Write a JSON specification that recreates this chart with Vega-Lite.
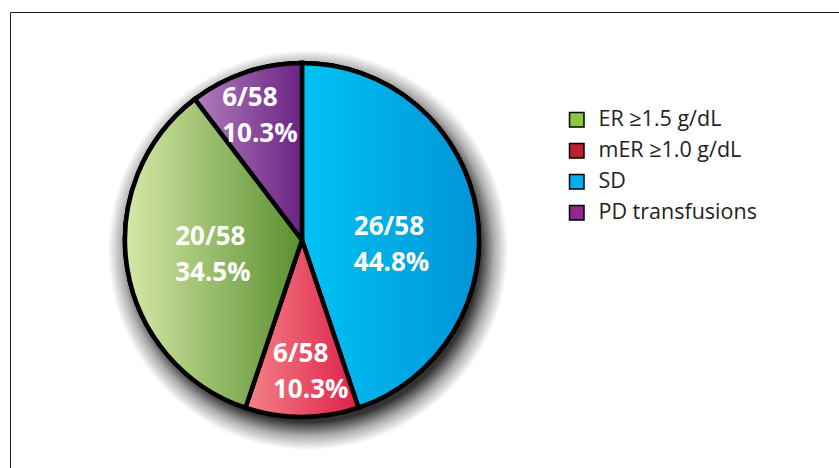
{
  "$schema": "https://vega.github.io/schema/vega-lite/v6.json",
  "autosize": {"type": "none"},
  "width": 831,
  "height": 458,
  "padding": {"left": 10, "top": 12, "right": -2, "bottom": -2},
  "background": "white",
  "view": {"stroke": "#231f20", "strokeWidth": 1},
  "config": {
    "view": {"stroke": "#231f20", "strokeWidth": 1},
    "legend": {"padding": 0}
  },
  "data": {
    "values": [
      {"group": "SD", "n": 26, "label": "26/58|44.8%", "order": 1},
      {"group": "mER ≥1.0 g/dL", "n": 6, "label": "6/58|10.3%", "order": 2},
      {"group": "ER ≥1.5 g/dL", "n": 20, "label": "20/58|34.5%", "order": 3},
      {"group": "PD transfusions", "n": 6, "label": "6/58|10.3%", "order": 4}
    ]
  },
  "transform": [
    {"stack": "n", "groupby": [], "sort": [{"field": "order", "order": "ascending"}], "as": ["t0", "t1"]}
  ],
  "layer": [
    {
      "data": {"values": [{"k": "shadow"}]},
      "mark": {
        "type": "arc", "x": 298, "y": 238, "outerRadius": 200, "theta": 0, "theta2": 6.2832,
        "fill": {"gradient": "radial", "x1": 0.5, "y1": 0.5, "r1": 0, "x2": 0.5, "y2": 0.5, "r2": 0.5,
          "stops": [
            {"offset": 0, "color": "rgba(0,0,0,0.8)"},
            {"offset": 0.86, "color": "rgba(0,0,0,0.8)"},
            {"offset": 0.93, "color": "rgba(0,0,0,0.32)"},
            {"offset": 1, "color": "rgba(0,0,0,0)"}
          ]}
      },
      "encoding": {}
    },
    {
      "mark": {"type": "arc", "x": 292, "y": 228, "outerRadius": 177, "stroke": "#000", "strokeWidth": 4.5},
      "encoding": {
        "theta": {"field": "t0", "type": "quantitative", "stack": null, "scale": {"domain": [0, 58]}},
        "theta2": {"field": "t1"},
        "color": {
          "field": "group", "type": "nominal",
          "scale": {
            "domain": ["ER ≥1.5 g/dL", "mER ≥1.0 g/dL", "SD", "PD transfusions"],
            "range": ["#8dc63f", "#be1e2d", "#00aeef", "#92278f"]
          },
          "legend": {
            "title": null, "orient": "none", "legendX": 556, "legendY": 97,
            "symbolType": "square", "symbolSize": 210, "symbolStrokeColor": "#000", "symbolStrokeWidth": 1.5,
            "symbolOpacity": 1,
            "labelFont": "Open Sans", "labelFontSize": 21.5, "labelColor": "#231f20", "labelOffset": 11,
            "rowPadding": 8, "labelLimit": 300
          }
        }
      }
    },
    {
      "transform": [{"filter": "datum.group === 'SD'"}],
      "mark": {"type": "arc", "x": 292, "y": 228, "outerRadius": 177, "stroke": "#000", "strokeWidth": 4.5,
        "fill": {"gradient": "linear", "x1": 0, "y1": 0, "x2": 1, "y2": 0,
          "stops": [{"offset": 0, "color": "#00c3f4"}, {"offset": 1, "color": "#0094d6"}]}},
      "encoding": {"theta": {"field": "t0", "type": "quantitative", "stack": null}, "theta2": {"field": "t1"}}
    },
    {
      "transform": [{"filter": "datum.group === 'mER ≥1.0 g/dL'"}],
      "mark": {"type": "arc", "x": 292, "y": 228, "outerRadius": 177, "stroke": "#000", "strokeWidth": 4.5,
        "fill": {"gradient": "linear", "x1": 0, "y1": 0, "x2": 1, "y2": 0,
          "stops": [{"offset": 0, "color": "#f48484"}, {"offset": 1, "color": "#df1f4c"}]}},
      "encoding": {"theta": {"field": "t0", "type": "quantitative", "stack": null}, "theta2": {"field": "t1"}}
    },
    {
      "transform": [{"filter": "datum.group === 'ER ≥1.5 g/dL'"}],
      "mark": {"type": "arc", "x": 292, "y": 228, "outerRadius": 177, "stroke": "#000", "strokeWidth": 4.5,
        "fill": {"gradient": "linear", "x1": 0, "y1": 0, "x2": 1, "y2": 0,
          "stops": [{"offset": 0, "color": "#d6e9a8"}, {"offset": 1, "color": "#5a8f2f"}]}},
      "encoding": {"theta": {"field": "t0", "type": "quantitative", "stack": null}, "theta2": {"field": "t1"}}
    },
    {
      "transform": [{"filter": "datum.group === 'PD transfusions'"}],
      "mark": {"type": "arc", "x": 292, "y": 228, "outerRadius": 177, "stroke": "#000", "strokeWidth": 4.5,
        "fill": {"gradient": "linear", "x1": 0, "y1": 0, "x2": 1, "y2": 0,
          "stops": [{"offset": 0, "color": "#b27dbd"}, {"offset": 1, "color": "#6a2383"}]}},
      "encoding": {"theta": {"field": "t0", "type": "quantitative", "stack": null}, "theta2": {"field": "t1"}}
    },
    {
      "mark": {"type": "text", "x": 292, "y": 228, "radius": 91, "dx": -38, "dy": 2, "align": "left", "baseline": "middle",
        "font": "Open Sans", "fontWeight": "bold", "fontSize": 26, "lineHeight": 36, "lineBreak": "|", "fill": "white"},
      "encoding": {
        "theta": {"field": "n", "type": "quantitative", "stack": true},
        "order": {"field": "order"},
        "text": {"condition": {"test": "datum.group === 'SD'", "field": "label"}, "value": ""}
      }
    },
    {
      "mark": {"type": "text", "x": 292, "y": 228, "radius": 132, "dx": -29, "dy": -18, "align": "left", "baseline": "middle",
        "font": "Open Sans", "fontWeight": "bold", "fontSize": 26, "lineHeight": 36, "lineBreak": "|", "fill": "white"},
      "encoding": {
        "theta": {"field": "n", "type": "quantitative", "stack": true},
        "order": {"field": "order"},
        "text": {"condition": {"test": "datum.group === 'mER ≥1.0 g/dL'", "field": "label"}, "value": ""}
      }
    },
    {
      "mark": {"type": "text", "x": 292, "y": 228, "radius": 90, "dx": -38, "dy": -18, "align": "left", "baseline": "middle",
        "font": "Open Sans", "fontWeight": "bold", "fontSize": 26, "lineHeight": 36, "lineBreak": "|", "fill": "white"},
      "encoding": {
        "theta": {"field": "n", "type": "quantitative", "stack": true},
        "order": {"field": "order"},
        "text": {"condition": {"test": "datum.group === 'ER ≥1.5 g/dL'", "field": "label"}, "value": ""}
      }
    },
    {
      "mark": {"type": "text", "x": 292, "y": 228, "radius": 131, "dx": -38, "dy": -18, "align": "left", "baseline": "middle",
        "font": "Open Sans", "fontWeight": "bold", "fontSize": 26, "lineHeight": 36, "lineBreak": "|", "fill": "white"},
      "encoding": {
        "theta": {"field": "n", "type": "quantitative", "stack": true},
        "order": {"field": "order"},
        "text": {"condition": {"test": "datum.group === 'PD transfusions'", "field": "label"}, "value": ""}
      }
    }
  ]
}
